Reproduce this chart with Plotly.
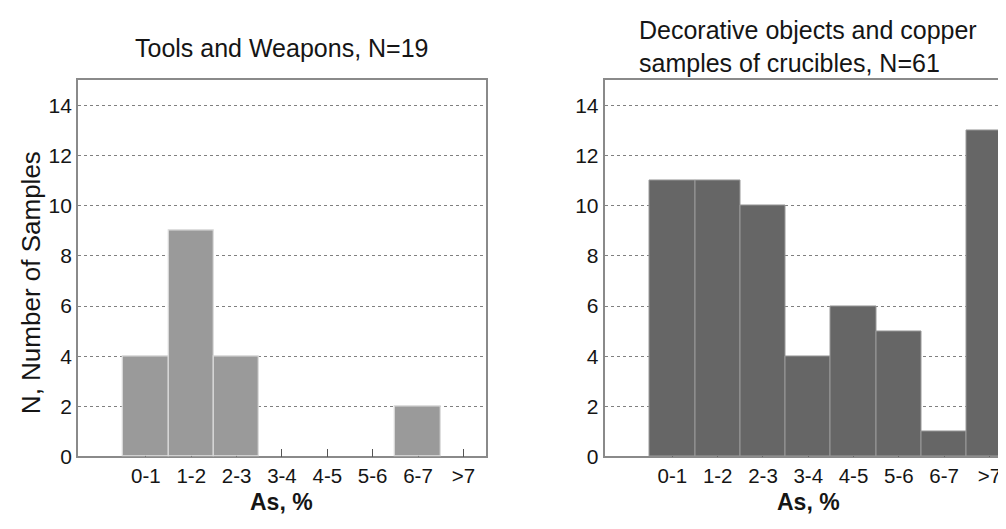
import plotly.graph_objects as go

categories = ["0-1", "1-2", "2-3", "3-4", "4-5", "5-6", "6-7", ">7"]
tools_counts = [4, 9, 4, 0, 0, 0, 2, 0]
decor_counts = [11, 11, 10, 4, 6, 5, 1, 13]
y_ticks = [0, 2, 4, 6, 8, 10, 12, 14]

W, H = 1006, 529
FONT = "Liberation Sans, Arial, sans-serif"
TXT = "#151515"

def px_x(x):
    return x / W

def px_y(y):
    return 1 - y / H

def nz(vals):
    return [v if v else None for v in vals]

fig = go.Figure()
fig.add_trace(go.Bar(x=categories, y=nz(tools_counts), xaxis="x", yaxis="y",
                     marker=dict(color="#9a9a9a", line=dict(color="#dcdcdc", width=1.2)),
                     showlegend=False, hoverinfo="x+y"))
fig.add_trace(go.Bar(x=categories, y=nz(decor_counts), xaxis="x2", yaxis="y2",
                     marker=dict(color="#666666", line=dict(color="#9a9a9a", width=1)),
                     showlegend=False, hoverinfo="x+y"))

xcommon = dict(type="category", categoryorder="array", categoryarray=categories,
               range=[-1.5, 7.5], showline=True, linecolor="#8a8a8a", linewidth=1.5,
               mirror=True, ticks="inside", ticklen=8, tickcolor="#555", tickwidth=1,
               tickfont=dict(family=FONT, size=20.5, color=TXT), showgrid=False,
               layer="below traces", fixedrange=True)
ycommon = dict(range=[0, 15], tickvals=y_ticks, showline=True, linecolor="#8a8a8a",
               linewidth=1.5, mirror=True, ticks="", showgrid=True, gridcolor="#808080",
               griddash="dot", gridwidth=1, zeroline=False,
               tickfont=dict(family=FONT, size=21, color=TXT), layer="below traces",
               fixedrange=True)

ydom = [px_y(458), px_y(74)]
fig.update_layout(
    width=W, height=H,
    margin=dict(l=0, r=0, t=0, b=0),
    paper_bgcolor="white", plot_bgcolor="white",
    bargap=0,
    xaxis=dict(domain=[px_x(70), px_x(479)], anchor="y", **xcommon),
    yaxis=dict(domain=ydom, anchor="x", **ycommon),
    xaxis2=dict(domain=[px_x(597.7), 1.0], anchor="y2", **xcommon),
    yaxis2=dict(domain=ydom, anchor="x2", **ycommon),
    font=dict(family=FONT, color=TXT),
)

ann = []
ann.append(dict(text="Tools and Weapons, N=19", x=px_x(274), y=px_y(41), xref="paper", yref="paper",
                xanchor="center", yanchor="middle", showarrow=False,
                font=dict(family=FONT, size=25, color=TXT)))
ann.append(dict(text="Decorative objects and copper<br>samples of crucibles, N=61",
                x=px_x(630), y=px_y(39), xref="paper", yref="paper",
                xanchor="left", yanchor="middle", align="left", showarrow=False,
                font=dict(family=FONT, size=25, color=TXT)))
ann.append(dict(text="N, Number of Samples", x=px_x(23), y=px_y(280), xref="paper", yref="paper",
                xanchor="center", yanchor="middle", textangle=-90, showarrow=False,
                font=dict(family=FONT, size=26, color=TXT)))
ann.append(dict(text="<b>As, %</b>", x=px_x(274), y=px_y(505), xref="paper", yref="paper",
                xanchor="center", yanchor="middle", showarrow=False,
                font=dict(family=FONT, size=23, color=TXT)))
ann.append(dict(text="<b>As, %</b>", x=px_x(802), y=px_y(505), xref="paper", yref="paper",
                xanchor="center", yanchor="middle", showarrow=False,
                font=dict(family=FONT, size=23, color=TXT)))
fig.update_layout(annotations=ann)

fig.write_html("out.html")
